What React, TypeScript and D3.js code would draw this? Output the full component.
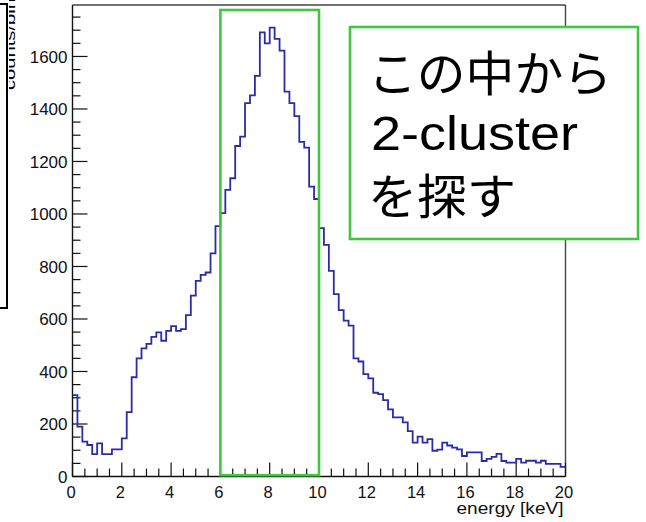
import React from "react";
import * as d3 from "d3";

// ---- data ----
const binWidth = 0.2; // keV
const counts = [
  310, 190, 133, 120, 85, 126, 85, 85, 103, 103,
  145, 245, 378, 450, 488, 505, 532, 549, 517, 555,
  573, 555, 561, 615, 689, 745, 768, 777, 850, 954,
  1003, 1092, 1136, 1259, 1295, 1422, 1452, 1526, 1692, 1650,
  1710, 1667, 1622, 1466, 1422, 1373, 1275, 1253, 1104, 1057,
  946, 882, 783, 695, 634, 594, 575, 450, 438, 390,
  374, 319, 314, 291, 256, 225, 225, 206, 173, 129,
  152, 129, 142, 98, 102, 129, 118, 110, 103, 78,
  92, 92, 92, 59, 67, 75, 86, 59, 53, 53,
  67, 53, 60, 60, 53, 60, 48, 48, 48, 37,
];
const xTickLabels = [0, 2, 4, 6, 8, 10, 12, 14, 16, 18, 20];
const yTickLabels = [0, 200, 400, 600, 800, 1000, 1200, 1400, 1600];
const xMinorStep = 0.5;
const yMinorStep = 50;
const xTitle = "energy [keV]";
const yTitle = "counts/bin";
const boxLines = ["この中から", "2-cluster", "を探す"];
const windowRange = [6, 10]; // keV selection window
const windowTop = 1777;

const W = 646;
const H = 522;
const LATIN = "'Liberation Sans', Arial, Helvetica, sans-serif";
const CJK = "'Noto Sans CJK JP', 'Liberation Sans', sans-serif";
const GREEN = "#3fc83f";
const BLUE = "#2b2ba8";

export default function App() {
  const x = d3.scaleLinear().domain([0, 20]).range([72.5, 565.5]);
  const y = d3.scaleLinear().domain([0, 1796]).range([476.5, 5]);

  const pts: [number, number][] = counts.map((c, i) => [i * binWidth, c]);
  pts.push([counts.length * binWidth, counts[counts.length - 1]]);
  const line = d3
    .line<[number, number]>()
    .x((d) => x(d[0]))
    .y((d) => y(d[1]))
    .curve(d3.curveStepAfter);

  const xMinor = d3.range(0, 20 + 1e-9, xMinorStep).filter((v) => Math.abs(v / 2 - Math.round(v / 2)) > 1e-6);
  const yMinor = d3.range(0, 1796, yMinorStep).filter((v) => v % 200 !== 0);

  const [x0, x1] = x.range();
  const [yb, yt] = y.range();

  return (
    <svg
      width={W}
      height={H}
      style={{ position: "absolute", left: 0, top: 0, background: "#fff" }}
    >
      <defs>
        <clipPath id="leftclip">
          <rect x={9} y={0} width={20} height={120} />
        </clipPath>
      </defs>
      <rect x={0} y={0} width={W} height={H} fill="#fff" />

      {/* left partial box */}
      <rect x={-10} y={4} width={17} height={304} fill="none" stroke="#000" strokeWidth={2} />
      <g clipPath="url(#leftclip)">
        <text
          transform={`translate(15,90) rotate(-90)`}
          fontFamily={LATIN}
          fontSize={15}
          textLength={92}
          lengthAdjust="spacingAndGlyphs"
          fill="#000"
        >
          {yTitle}
        </text>
      </g>

      {/* frame */}
      <line x1={x0} x2={x1} y1={yt} y2={yt} stroke="#444" strokeWidth={1.4} />
      <line x1={x1} x2={x1} y1={yt} y2={yb} stroke="#444" strokeWidth={1.4} />
      <line x1={x0} x2={x0} y1={yt} y2={yb} stroke="#111" strokeWidth={1.4} />
      <line x1={x0} x2={x1} y1={yb} y2={yb} stroke="#111" strokeWidth={1.4} />

      {/* y ticks */}
      {yTickLabels.map((v) => (
        <g key={"y" + v}>
          <line x1={x0} x2={x0 + 15} y1={y(v)} y2={y(v)} stroke="#111" strokeWidth={1.2} />
          <text
            x={x0 - 5}
            y={y(v)}
            dy="0.36em"
            textAnchor="end"
            fontFamily={LATIN}
            fontSize={17}
            fill="#111"
          >
            {v}
          </text>
        </g>
      ))}
      {yMinor.map((v) => (
        <line key={"ym" + v} x1={x0} x2={x0 + 8} y1={y(v)} y2={y(v)} stroke="#111" strokeWidth={1.2} />
      ))}

      {/* x ticks */}
      {xTickLabels.map((v) => (
        <g key={"x" + v}>
          <line x1={x(v)} x2={x(v)} y1={yb} y2={yb - 14} stroke="#111" strokeWidth={1.2} />
          <text
            x={x(v) - 1.5}
            y={yb + 21}
            textAnchor="middle"
            fontFamily={LATIN}
            fontSize={16.5}
            fill="#111"
          >
            {v}
          </text>
        </g>
      ))}
      {xMinor.map((v) => (
        <line key={"xm" + v} x1={x(v)} x2={x(v)} y1={yb} y2={yb - 8} stroke="#111" strokeWidth={1.2} />
      ))}
      <text
        x={x1 - 2}
        y={514}
        textAnchor="end"
        fontFamily={LATIN}
        fontSize={16.5}
        textLength={107}
        lengthAdjust="spacingAndGlyphs"
        fill="#111"
      >
        {xTitle}
      </text>

      {/* histogram */}
      <path d={line(pts) || ""} fill="none" stroke={BLUE} strokeWidth={1.8} />

      {/* selection window */}
      <rect
        x={x(windowRange[0])}
        y={y(windowTop)}
        width={x(windowRange[1]) - x(windowRange[0])}
        height={y(5) - y(windowTop)}
        fill="none"
        stroke={GREEN}
        strokeWidth={2.6}
      />

      {/* annotation box */}
      <rect x={350} y={27} width={288} height={212} fill="#fff" stroke={GREEN} strokeWidth={2.6} />
      <text
        x={368}
        y={91}
        fontFamily={CJK}
        fontSize={48}
        textLength={244}
        lengthAdjust="spacingAndGlyphs"
        fill="#000"
      >
        {boxLines[0]}
      </text>
      <text
        x={371}
        y={150}
        fontFamily={LATIN}
        fontSize={48}
        textLength={207}
        lengthAdjust="spacingAndGlyphs"
        fill="#000"
      >
        {boxLines[1]}
      </text>
      <text
        x={368}
        y={214}
        fontFamily={CJK}
        fontSize={48}
        textLength={148}
        lengthAdjust="spacingAndGlyphs"
        fill="#000"
      >
        {boxLines[2]}
      </text>
    </svg>
  );
}
